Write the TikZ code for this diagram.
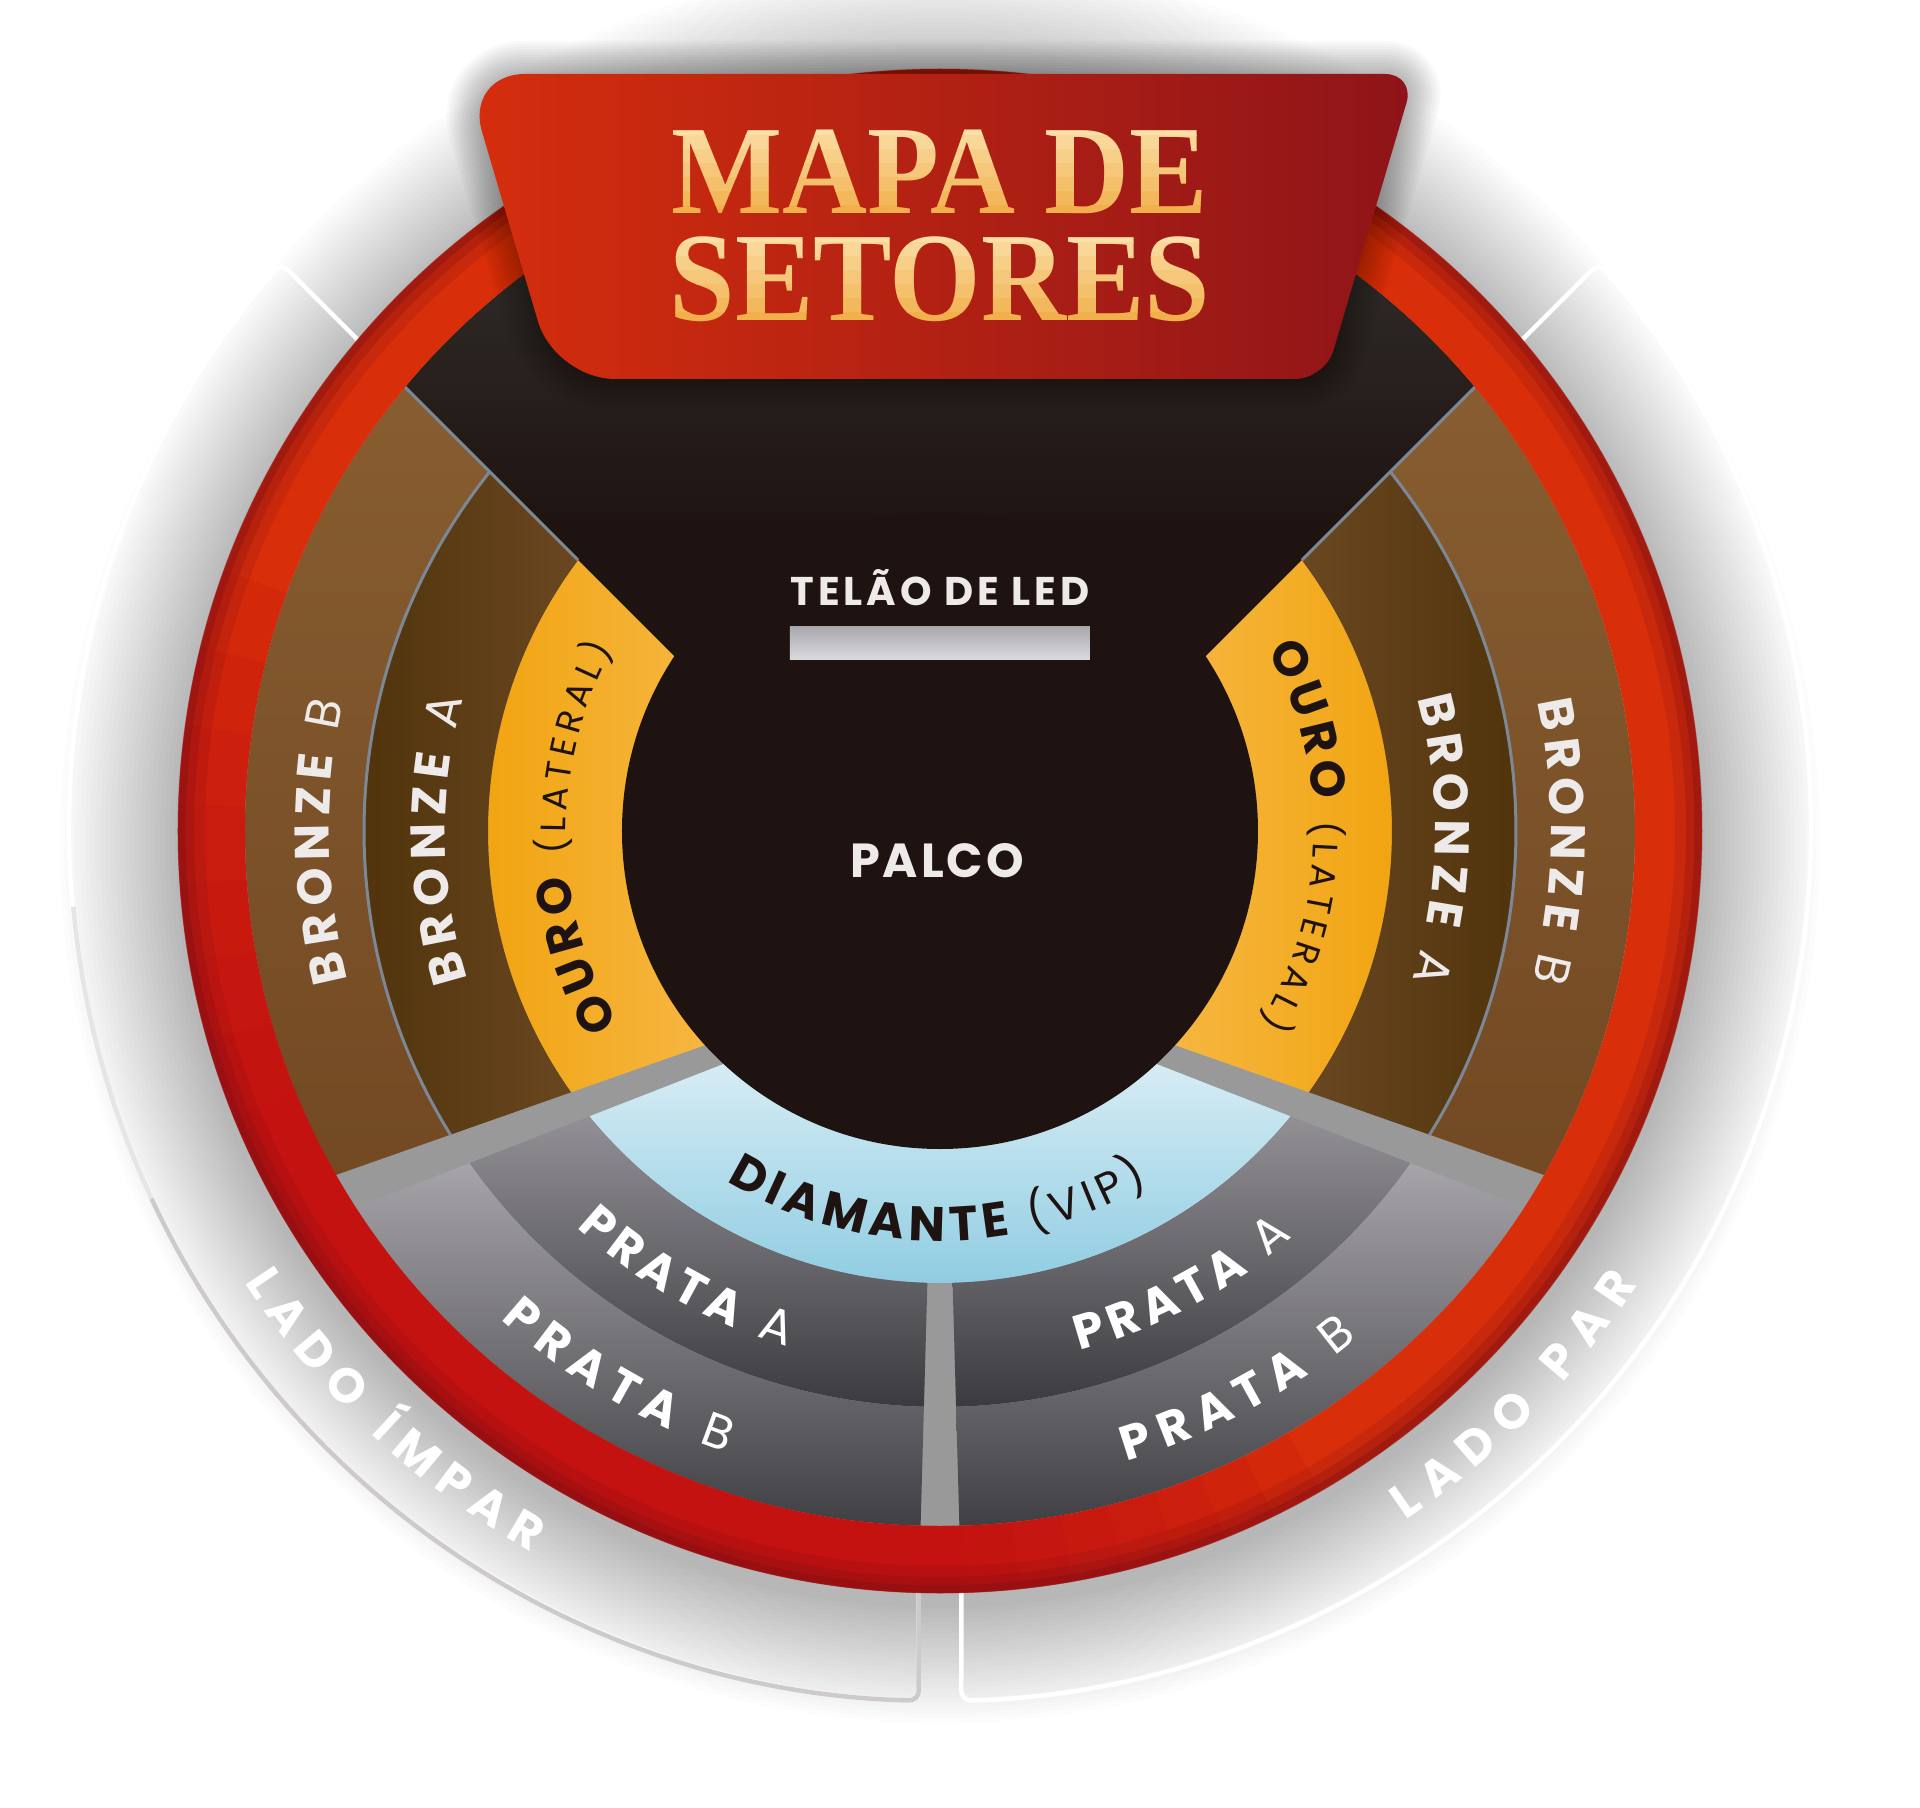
\documentclass[tikz,border=0pt]{standalone}
\usepackage{fontspec}
\setsansfont{Poppins}
\newfontfamily\titlefont[FakeStretch=0.93]{Liberation Serif}
\usetikzlibrary{decorations.text}
\definecolor{stagebk}{HTML}{1E1310}
\definecolor{wedgetop}{HTML}{2E2A27}
\definecolor{ouroout}{HTML}{F1A108}
\definecolor{ouroin}{HTML}{F6B845}
\definecolor{bzadk}{HTML}{4A2F06}
\definecolor{bzalt}{HTML}{6F4B25}
\definecolor{bzbtop}{HTML}{885D31}
\definecolor{bzbbot}{HTML}{6E4620}
\definecolor{bzline}{HTML}{7D8896}
\definecolor{diatop}{HTML}{EAF5F9}
\definecolor{diabot}{HTML}{8CCBE1}
\definecolor{prAtop}{HTML}{A09EA3}
\definecolor{prAbot}{HTML}{3B3A3E}
\definecolor{prBtop}{HTML}{B3B1B5}
\definecolor{prBbot}{HTML}{403F43}
\definecolor{sepgray}{HTML}{999999}
\definecolor{ringor}{HTML}{D92E0A}
\definecolor{ringcr}{HTML}{BE0B16}
\definecolor{ringdk}{HTML}{7E0E15}
\definecolor{bannerlt}{HTML}{D52E0D}
\definecolor{bannerdk}{HTML}{8E1419}
\definecolor{goldlt}{HTML}{FADFA8}
\definecolor{golddk}{HTML}{F1AE48}
\definecolor{ledtop}{HTML}{A9A8AE}
\definecolor{ledbot}{HTML}{DADADE}
\definecolor{lbllt}{HTML}{EEEAEA}
\definecolor{brkgray}{HTML}{CDC9CD}
\newcommand\lblb{\sffamily\bfseries\fontsize{13.8}{14}\selectfont}
\newcommand\lbll{\sffamily\mdseries\fontsize{13.8}{14}\selectfont}
\newcommand\lbls{\sffamily\mdseries\fontsize{10}{11}\selectfont}
\newcommand\lblv{\sffamily\mdseries\fontsize{12.5}{13}\selectfont}
\newcommand\sectorpath[4]{(#1:#3) arc[start angle=#1,end angle=#2,radius=#3] -- (#2:#4) arc[start angle=#2,end angle=#1,radius=#4] -- cycle}
\newcommand\leftzone{(30,-121) -- (-900,809) -- (-900,-448) -- cycle}
\newcommand\rightzone{(-30,-121) -- (900,809) -- (900,-448) -- cycle}
\newcommand\bottomzone{(0,-148.6) -- (-900,-499.6) -- (-900,-900) -- (900,-900) -- (900,-499.6) -- cycle}
\newcommand\wedgezone{(0,-91) -- (-800,709) -- (800,709) -- cycle}
\newcommand\bannerpath{(0,757) [rounded corners=3mm] -- (475,757) -- (385,452) [rounded corners=6mm] -- (-385,452) -- (-475,757) [rounded corners=3mm] -- cycle}
\tikzset{
  shadowring/.style={black,opacity=.01},
  brk/.style={draw=white,line width=.45mm,rounded corners=1mm},
  lbl/.style 2 args={decorate,decoration={text along path,text align={fit to path},text color=#1,text={#2}}},
  ttl/.style={font=\titlefont\bfseries\fontsize{36}{36}\selectfont,anchor=base,inner sep=0},
  stagetxt/.style={text=lbllt,anchor=base,inner sep=0}
}

\begin{document}
\begin{tikzpicture}[x=0.1mm,y=0.1mm]
\fill[white] (-940,-977) rectangle (980,831);
\useasboundingbox (-940,-977) rectangle (980,831);

% soft shadow round the disc
\foreach \r in {765,770,...,880}
  \fill[shadowring] (0,-12) circle (\r);

% side brackets
\draw[brk] (-582.4,491.4) -- (139.24:870) arc[start angle=139.24,end angle=268.6,radius=870] -- (-21.3,-760);
\draw[brk,draw=brkgray!50!white] (185:870) arc[start angle=185,end angle=205,radius=870];
\draw[brk,draw=brkgray] (205:870) arc[start angle=205,end angle=268.6,radius=870] -- (-21.3,-760);
\draw[brk] (582.4,491.4) -- (40.76:870) arc[start angle=40.76,end angle=-88.6,radius=870] -- (21.3,-760);

% inner disc and stage wedge
\fill[sepgray] (0,0) circle (695);
\begin{scope}
  \clip (0,0) circle (695);
  \fill[stagebk] \wedgezone;
  \clip \wedgezone;
  \shade[top color=wedgetop,bottom color=stagebk] (-800,560) rectangle (800,300);
  \fill[wedgetop] (-800,560) rectangle (800,709);
\end{scope}

% left sectors
\begin{scope}
  \clip \leftzone;
  \shade[left color=ouroout,right color=ouroin] \sectorpath{138}{225}{300}{452};
  \shade[left color=bzadk,right color=bzalt] \sectorpath{138}{225}{452}{576};
  \shade[top color=bzbtop,bottom color=bzbbot] \sectorpath{138}{225}{576}{695};
  \draw[bzline,line width=.3mm] (138:576) arc[start angle=138,end angle=225,radius=576];
\end{scope}
\draw[bzline,line width=.3mm] (-361.9,270.9) -- (-534.8,443.8);
% right sectors
\begin{scope}
  \clip \rightzone;
  \shade[left color=ouroin,right color=ouroout] \sectorpath{-45}{42}{300}{452};
  \shade[left color=bzalt,right color=bzadk] \sectorpath{-45}{42}{452}{576};
  \shade[top color=bzbtop,bottom color=bzbbot] \sectorpath{-45}{42}{576}{695};
  \draw[bzline,line width=.3mm] (-45:576) arc[start angle=-45,end angle=42,radius=576];
\end{scope}
\draw[bzline,line width=.3mm] (361.9,270.9) -- (534.8,443.8);
% bottom sectors
\begin{scope}
  \clip \bottomzone;
  \shade[top color=diatop,middle color=diatop,bottom color=diabot] \sectorpath{215}{325}{300}{452};
  \shade[top color=prAtop,bottom color=prAbot] \sectorpath{212}{268.4}{452}{576};
  \shade[top color=prBtop,bottom color=prBbot] \sectorpath{210}{268.4}{576}{695};
  \shade[top color=prAtop,bottom color=prAbot] \sectorpath{271.6}{328}{452}{576};
  \shade[top color=prBtop,bottom color=prBbot] \sectorpath{271.6}{330}{576}{695};
\end{scope}

% stage
\fill[stagebk] (0,0) circle (318);
\shade[top color=ledtop,bottom color=ledbot] (-150,172) rectangle (150,204);
\node[stagetxt,font=\sffamily\bfseries\fontsize{11.4}{12}\selectfont\addfontfeatures{LetterSpace=10}] (telao) at (0,225) {TELÃO DE LED};
\node[stagetxt,font=\sffamily\bfseries\fontsize{13.6}{14}\selectfont\addfontfeatures{LetterSpace=6}] (palco) at (-3,-46) {PALCO};

% red ring
\fill[ringor,even odd rule] (0,0) circle (762) (0,0) circle (695);
\foreach \k [evaluate=\k as \a using 160+6*\k, evaluate=\k as \b using 300-4*\k] in {0,...,7}
  \fill[ringcr,opacity=.15] \sectorpath{\a}{\b}{695}{762};
\foreach \r/\w/\o in {748/2.6/.18, 754/1.6/.25, 758.5/0.8/.35}
  \draw[ringdk,opacity=\o,line width=\w mm] (0,0) circle (\r);

% title banner
\foreach \w in {1,...,12}
  \draw[black,opacity=.022,line width=\w*0.55mm,line join=round] \bannerpath;
\shade[left color=bannerlt,right color=bannerdk] \bannerpath;
\foreach \txt/\yb in {MAPA DE/617,SETORES/510}
  \foreach \i in {0,...,6}{
    \pgfmathtruncatemacro\pct{\i*16}
    \begin{scope}
      \clip (-480,\yb+92-14*\i) rectangle (480,\yb+78-14*\i);
      \node[ttl,text=golddk!\pct!goldlt] (title-\i) at (0,\yb) {\txt};
    \end{scope}
  }

% sector labels
\path[lbl={lbllt}{|\lblb|BRONZE |\lbll|B}] (194.2:611) arc[start angle=194.2,end angle=167.8,radius=611];
\path[lbl={lbllt}{|\lblb|BRONZE |\lbll|A}] (197.5:495) arc[start angle=197.5,end angle=164.5,radius=495];
\path[lbl={stagebk}{|\lblb|OURO |\lbls|(LATERAL)}] (211:374) arc[start angle=211,end angle=151,radius=374];
\path[lbl={lbllt}{|\lblb|BRONZE |\lbll|B}] (12.2:611) arc[start angle=12.2,end angle=-14.2,radius=611];
\path[lbl={lbllt}{|\lblb|BRONZE |\lbll|A}] (15.5:495) arc[start angle=15.5,end angle=-17.5,radius=495];
\path[lbl={stagebk}{|\lblb|OURO |\lbls|(LATERAL)}] (29:374) arc[start angle=29,end angle=-31,radius=374];
\path[lbl={stagebk}{|\lblb|DIAMANTE |\lblv|(VIP)}] (238.7:410) arc[start angle=238.7,end angle=300.7,radius=410];
\path[lbl={white}{|\lblb|PRATA |\lbll|A}] (227.5:538) arc[start angle=227.5,end angle=253.5,radius=538];
\path[lbl={white}{|\lblb|PRATA |\lbll|B}] (228:657) arc[start angle=228,end angle=251,radius=657];
\path[lbl={white}{|\lblb|PRATA |\lbll|A}] (285:538) arc[start angle=285,end angle=311,radius=538];
\path[lbl={white}{|\lblb|PRATA |\lbll|B}] (286.5:657) arc[start angle=286.5,end angle=309.5,radius=657];
\path[lbl={white}{|\lblb|LADO ÍMPAR}] (213:829) arc[start angle=213,end angle=240.5,radius=829];
\path[lbl={white}{|\lblb|LADO PAR}] (304:832) arc[start angle=304,end angle=327,radius=832];
\end{tikzpicture}
\end{document}
